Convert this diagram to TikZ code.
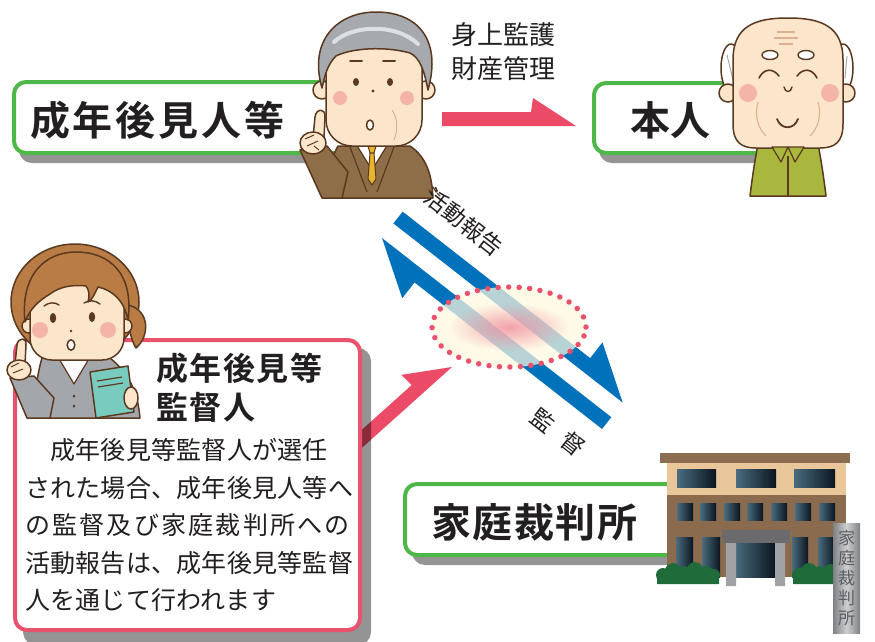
\documentclass[tikz,border=0pt]{standalone}
\usepackage{fontspec}
\setmainfont{Noto Sans CJK JP}[BoldFont={Noto Sans CJK JP Bold}]
\usetikzlibrary{fadings}

\definecolor{boxgreen}{HTML}{4DB748}
\definecolor{boxpink}{HTML}{E9526D}
\definecolor{arrowred}{HTML}{EB4B67}
\definecolor{bandblue}{HTML}{0072BC}
\definecolor{ink}{HTML}{231F20}
\definecolor{skin}{HTML}{FCE6CB}
\definecolor{lineb}{HTML}{5A3920}
\definecolor{cheek}{HTML}{F4B5A6}
\definecolor{suitbrown}{HTML}{8E6D49}
\definecolor{hairgray}{HTML}{A6A9AE}
\definecolor{hairlight}{HTML}{DCE0E5}
\definecolor{tiegold}{HTML}{E7B42C}
\definecolor{shirtgreen}{HTML}{A9B83C}
\definecolor{hairbrown}{HTML}{B97C45}
\definecolor{suitgray}{HTML}{A3A7AC}
\definecolor{bookteal}{HTML}{78CBBE}
\definecolor{cream}{HTML}{FFF9DF}
\definecolor{glowpink}{HTML}{F08C9C}
\definecolor{wrinkle}{HTML}{DDB093}
\definecolor{roofbrown}{HTML}{8B6D52}
\definecolor{wallbeige}{HTML}{E9C79A}
\definecolor{wallbrown}{HTML}{8B6B4E}
\definecolor{winlight}{HTML}{4A6C7E}
\definecolor{windark}{HTML}{0B1520}
\definecolor{canopy}{HTML}{6B6B6D}
\definecolor{pillar}{HTML}{A0A2A5}
\definecolor{bush}{HTML}{1F6B3A}
\definecolor{signdark}{HTML}{7E8184}
\definecolor{signlight}{HTML}{CDCFD1}
\definecolor{signtext}{HTML}{5C5E61}

\tikzfading[name=glowfade, inner color=transparent!0, outer color=transparent!100]

\begin{document}
\begin{tikzpicture}[x=1pt, y=-1pt, line join=round,
  shadowfill/.style={fill=black, fill opacity=0.42, rounded corners=13pt},
  greenbox/.style={draw=boxgreen, line width=4pt, fill=white, rounded corners=12pt},
  pinkframe/.style={draw=boxpink, line width=4pt, fill=white, rounded corners=12pt},
  outl/.style={draw=lineb, line width=1.5pt},
  skinpart/.style={outl, fill=skin},
  label/.style={inner sep=0pt, text=ink},
  win/.style={left color=winlight, right color=windark},
  band/.style={fill=bandblue},
]
\useasboundingbox (0,0) rectangle (875,641);
\fill[white] (0,0) rectangle (875,641);

% ---------- guardian label box ----------
\fill[shadowfill] (19,88) rectangle (357,163);
\path[greenbox] (14,82) rectangle (350,153);
\node[label, anchor=west, font=\fontsize{40pt}{40pt}\selectfont\bfseries\addfontfeature{LetterSpace=7}]
  (tguard) at (30,120) {成年後見人等};

% ---------- principal label box ----------
\fill[shadowfill] (599,89) rectangle (797,163);
\path[greenbox] (594,83) rectangle (790,153);
\node[label, font=\fontsize{40pt}{40pt}\selectfont\bfseries] (tself) at (670.5,120) {本人};

% ---------- guardian figure ----------
\filldraw[skinpart] (322,90) circle (9pt);
\filldraw[skinpart] (426,90) circle (9pt);
\filldraw[outl, fill=suitbrown] (338,146) .. controls (330,160) and (327,180) .. (326,198)
  -- (433,198) .. controls (432,178) and (428,158) .. (410,146) -- cycle;
\filldraw[outl, fill=white, line width=1.2pt] (356,144) -- (372,170) -- (388,144) -- cycle;
\draw[lineb, line width=1.2pt] (350,147) -- (367,192) (394,147) -- (377,192);
\filldraw[outl, fill=tiegold, line width=1pt] (368,146) -- (376,146) -- (374,153) -- (370,153) -- cycle;
\filldraw[outl, fill=tiegold, line width=1pt] (370,153) -- (374,153) -- (376,179) -- (372,185) -- (368,179) -- cycle;
\filldraw[skinpart] (326,40) [rounded corners=26pt] rectangle (422,146);
\filldraw[outl, fill=hairgray] (322,88) .. controls (308,40) and (338,12) .. (376,12)
  .. controls (418,12) and (442,40) .. (428,90) .. controls (424,70) and (420,58) .. (410,53)
  .. controls (385,46) and (352,48) .. (336,56) .. controls (328,64) and (325,74) .. (322,88) -- cycle;
\draw[hairlight, line width=4pt, line cap=round] (334,42) .. controls (352,25) and (396,23) .. (418,44);
\draw[lineb, line width=2pt, line cap=round] (350,61) -- (362,61) (383,61) -- (395,61);
\fill[lineb] (356,82) ellipse (3pt and 4pt) (390,82) ellipse (3pt and 4pt);
\fill[lineb] (373,91) circle (1.6pt);
\fill[cheek] (340,98) circle (7pt) (407,98) circle (7pt);
\draw[wrinkle, line width=1pt] (392,110) .. controls (398,118) and (398,130) .. (394,140);
\filldraw[outl, fill=white] (370,125) ellipse (3.5pt and 5pt);
% raised hand
\filldraw[outl, fill=suitbrown] (300,150) -- (327,146) -- (348,172) -- (342,198) -- (322,198) -- cycle;
\filldraw[skinpart] (313,138) -- (315,117) .. controls (316,108) and (326,108) .. (325,117) -- (324,138) -- cycle;
\filldraw[skinpart] (313,143) ellipse (13pt and 11pt);
\draw[lineb, line width=1pt] (305,139) -- (314,135) (307,146) -- (318,141) (314,146) -- (319,150);
\draw[lineb, line width=1.2pt, line cap=round] (429,190) -- (431,194) (433,187) -- (436,192) (437,193) -- (440,196);

% ---------- principal figure ----------
\filldraw[outl, fill=shirtgreen] (758,144) -- (818,144) .. controls (822,165) and (824,180) .. (826,196)
  -- (750,196) .. controls (752,180) and (754,165) .. (758,144) -- cycle;
\draw[lineb, line width=1.3pt] (788,156) -- (788,196);
\filldraw[outl, fill=white] (731,68) ellipse (10pt and 24pt);
\filldraw[outl, fill=white] (843,68) ellipse (10pt and 24pt);
\draw[hairgray, line width=1pt] (727,55) -- (733,80) (735,52) -- (737,78) (839,52) -- (841,80) (847,56) -- (845,78);
\filldraw[skinpart] (728,93) circle (9pt);
\filldraw[skinpart] (846,93) circle (9pt);
\filldraw[skinpart] (733,60) .. controls (733,26) and (755,18) .. (788,18) .. controls (821,18) and (843,26) .. (843,60)
  -- (843,124) .. controls (843,142) and (835,148) .. (820,148) -- (756,148)
  .. controls (741,148) and (733,142) .. (733,124) -- cycle;
\filldraw[outl, fill=shirtgreen, line width=1.2pt] (772,147) -- (788,147) -- (781,162) -- cycle;
\filldraw[outl, fill=shirtgreen, line width=1.2pt] (788,147) -- (804,147) -- (795,162) -- cycle;
\draw[wrinkle, line width=1.1pt] (777,32) -- (795,32) (774,38) -- (798,38) (779,44) -- (793,44);
\draw[wrinkle, line width=1.1pt] (758,102) .. controls (754,116) and (758,128) .. (766,136)
  (818,102) .. controls (822,116) and (818,128) .. (810,136);
\filldraw[outl, fill=white, line width=1.4pt] (770,55) ellipse (8pt and 4.5pt) (806,55) ellipse (8pt and 4.5pt);
\draw[lineb, line width=1.6pt, line cap=round] (759,78) .. controls (764,68) and (773,68) .. (779,76)
  (797,76) .. controls (803,68) and (812,68) .. (817,78);
\fill[cheek] (748,93) circle (9pt) (830,93) circle (9pt);
\draw[lineb, line width=1.4pt, line cap=round] (784,87) .. controls (785,93) and (791,93) .. (792,87);
\draw[lineb, line width=1.8pt, line cap=round] (777,119) .. controls (781,130) and (794,130) .. (798,119);

% ---------- duties arrow ----------
\node[label, anchor=west, font=\fontsize{26pt}{26pt}\selectfont] (duty1) at (451,35) {身上監護};
\node[label, anchor=west, font=\fontsize{26pt}{26pt}\selectfont] (duty2) at (451,69) {財産管理};
\fill[arrowred] (442,112) -- (531,112) -- (533,98) -- (576,126) -- (442,126) -- cycle;

% ---------- report / supervision bands ----------
\begin{scope}[shift={(382,238)}, rotate=-38]
  \fill[band] (0,-33.5) -- (238,-33.5) -- (238,-53.5) -- (291,-18.5) -- (0,-18.5) -- cycle;
  \fill[band] (0,0) -- (53,35) -- (53,15) -- (291,15) -- (291,0) -- cycle;
  \node[label, rotate=-38, font=\fontsize{23pt}{23pt}\selectfont] (trep) at (55,-63) {活動報告};
  \node[label, rotate=-38, font=\fontsize{23pt}{23pt}\selectfont] (tsup) at (258,44.5) {監\hspace{15pt}督};
\end{scope}
\fill[cream, fill opacity=0.72] (509,327) ellipse (77pt and 40pt);
\fill[glowpink, path fading=glowfade, fill opacity=0.8] (509,327) ellipse (60pt and 24pt);
\draw[boxpink, line width=5.5pt, line cap=round, dash pattern=on 0pt off 10.5pt] (509,327) ellipse (77pt and 40pt);

% ---------- supervisor arrow and box ----------
\begin{scope}[shift={(452,367)}, rotate=41.9]
  \fill[arrowred] (0,0) -- (-43,-28) -- (-42,-13.5) -- (-125,-13.5) -- (-125,0) -- cycle;
\end{scope}
\fill[shadowfill] (23,348) rectangle (371,645);
\path[pinkframe] (15,340) rectangle (360,630);
\node[label, anchor=west, font=\fontsize{32pt}{32pt}\selectfont\bfseries\addfontfeature{LetterSpace=5}]
  (tsv1) at (156,368) {成年後見等};
\node[label, anchor=west, font=\fontsize{32pt}{32pt}\selectfont\bfseries\addfontfeature{LetterSpace=5}]
  (tsv2) at (156,407) {監督人};
\begin{scope}[every node/.style={label, anchor=west, font=\fontsize{25pt}{25pt}\selectfont\addfontfeature{LetterSpace=1}}]
  \node (b1) at (25,450) {　成年後見等監督人が選任};
  \node (b2) at (25,488) {された場合、成年後見人等へ};
  \node[font=\fontsize{25pt}{25pt}\selectfont\addfontfeature{LetterSpace=9}] (b3) at (25,525) {の監督及び家庭裁判所への};
  \node (b4) at (25,563) {活動報告は、成年後見等監督};
  \node (b5) at (25,600) {人を通じて行われます};
\end{scope}

% ---------- supervisor figure ----------
\filldraw[outl, fill=hairbrown] (75,302) ellipse (64pt and 58pt);
\filldraw[outl, fill=hairbrown] (128,305) .. controls (150,310) and (150,336) .. (136,348)
  .. controls (130,338) and (128,325) .. (128,305) -- cycle;
\filldraw[outl, fill=suitgray] (42,358) .. controls (36,378) and (35,398) .. (35,418)
  -- (140,418) .. controls (138,396) and (132,376) .. (110,358) -- cycle;
\filldraw[outl, fill=white, line width=1.2pt] (58,357) -- (74,384) -- (90,357) -- cycle;
\fill[lineb] (74,396) circle (1.5pt) (74,406) circle (1.5pt);
\filldraw[skinpart] (29,326) circle (7pt);
\filldraw[skinpart] (125,326) circle (7pt);
\filldraw[skinpart] (30,275) [rounded corners=22pt] rectangle (124,360);
\filldraw[outl, fill=hairbrown] (25,322) .. controls (20,275) and (45,252) .. (76,252)
  .. controls (110,252) and (134,274) .. (128,320) .. controls (124,300) and (112,290) .. (98,287)
  .. controls (94,295) and (92,300) .. (88,302) .. controls (90,295) and (89,290) .. (86,286)
  .. controls (70,284) and (58,288) .. (50,294) .. controls (40,300) and (30,308) .. (25,322) -- cycle;
\draw[lineb, line width=1.4pt, line cap=round] (44,306) .. controls (49,302) and (55,302) .. (59,305)
  (84,303) .. controls (89,300) and (95,300) .. (100,304);
\fill[lineb] (53,318) ellipse (3.2pt and 5pt) (92,317) ellipse (3.2pt and 5pt);
\fill[lineb] (71,331) circle (1.4pt);
\fill[cheek] (40,330) circle (8pt) (108,330) circle (8pt);
\filldraw[outl, fill=white] (71,345) ellipse (3.8pt and 5.2pt);
% raised hand
\filldraw[outl, fill=suitgray] (10,378) -- (34,376) -- (54,398) -- (50,418) -- (27,418) -- cycle;
\filldraw[skinpart] (15,364) -- (17,345) .. controls (18,337) and (27,337) .. (26,345) -- (25,364) -- cycle;
\filldraw[skinpart] (19,370) ellipse (12pt and 10pt);
\draw[lineb, line width=1pt] (11,367) -- (19,363) (13,373) -- (23,369);
% notebook
\filldraw[outl, fill=bookteal] (90,372) -- (128,366) -- (134,412) -- (96,418) -- cycle;
\draw[lineb, line width=1.2pt] (97,381) -- (122,377) (98,387) -- (123,383);
\filldraw[skinpart] (131,398) ellipse (7pt and 11pt);

% ---------- court label box ----------
\fill[shadowfill] (412,490) rectangle (705,565);
\path[greenbox] (405,484) rectangle (698,555);
\node[label, anchor=west, font=\fontsize{40pt}{40pt}\selectfont\bfseries\addfontfeature{LetterSpace=4}]
  (tcourt) at (431,522) {家庭裁判所};

% ---------- court building ----------
\fill[roofbrown] (660,453) rectangle (850,463);
\fill[wallbeige] (667,463) rectangle (846,495);
\fill[wallbrown] (667,495) rectangle (846,577);
\foreach \a/\b in {677/716, 736/776, 794/835} {\shade[win] (\a,469) rectangle (\b,487);}
\foreach \a in {677,700,724,747,771,795,819} {\shade[win] (\a,503) rectangle ++(16,17);}
\foreach \a/\b in {676/693, 702/720, 792/808, 818/835} {\shade[win] (\a,537) rectangle (\b,577);}
\shade[win] (735,543) rectangle (775,577);
\fill[canopy] (722,530) rectangle (790,543);
\fill[pillar] (726,543) rectangle (736,586) (775,543) rectangle (785,586);
\fill[bush] (657,576) rectangle (719,584) (663,575) circle (7pt) (673,571) circle (8pt) (684,573) circle (7pt)
  (695,570) circle (8pt) (706,573) circle (7pt) (714,575) circle (6pt);
\fill[bush] (793,576) rectangle (840,584) (799,575) circle (7pt) (809,571) circle (8pt) (820,573) circle (7pt)
  (831,571) circle (7pt) (836,575) circle (6pt);
\shade[left color=signdark, right color=signdark, middle color=signlight] (833,523) rectangle (860,633);
\node[inner sep=0pt, text=signtext, align=center, font=\fontsize{17pt}{19.8pt}\selectfont] (tsign) at (846.5,578)
  {家\\庭\\裁\\判\\所};
\end{tikzpicture}
\end{document}
